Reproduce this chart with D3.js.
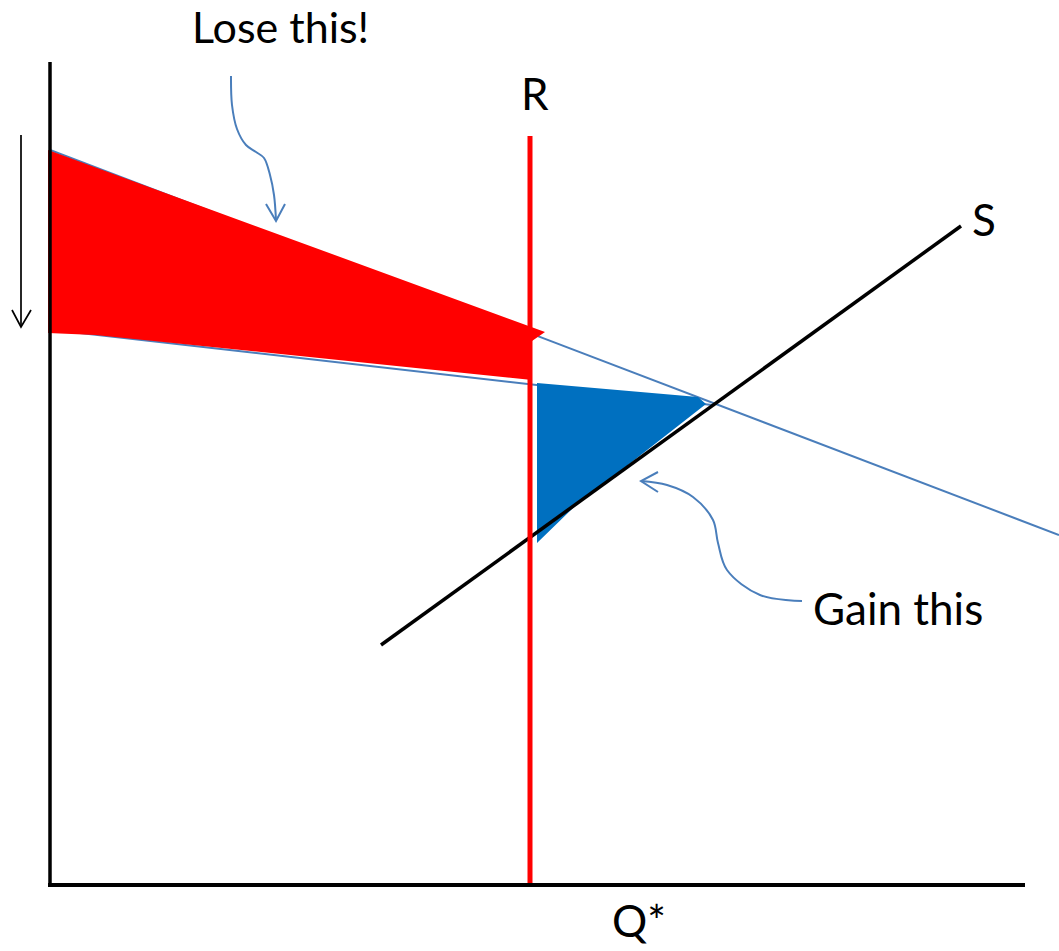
<!DOCTYPE html>
<html><head><meta charset="utf-8">
<script src="https://cdn.jsdelivr.net/npm/d3@7"></script>
<style>html,body{margin:0;padding:0;background:#fff;}svg{display:block;}</style>
</head><body>
<script>
// Conceptual diagram data (quantity on x, price on y, arbitrary units)
const axisX = [[-2, 0], [975, 0]];
const axisY = [[0, 0], [0, 823]];
const restrictionQ = 480;              // R line / Q*
const restrictionTop = 749;
const supply = [[331, 240], [911, 659]];
const demandUpper = [[0, 735], [1009, 350]];
const demandLower = [[30, 552], [662, 480]];
const loseArea = [[-2, 735], [495, 553], [482, 544], [482, 505], [45, 550], [-2, 552]];
const gainArea = [[487, 502], [648, 488], [656, 481], [523, 377], [487, 342]];
const priceArrow = [[-29, 750], [-29, 558]];
const priceArrowHead = [[-38, 575], [-29, 558], [-19, 575]];
const loseCurve = [[181, 809], [182, 780], [187, 756], [196, 740], [206, 733], [214, 727], [220, 710], [224, 690], [226, 665]];
const loseHead = [[216, 681], [226, 664], [235, 681]];
const gainCurve = [[752, 284], [710, 290], [677, 315], [668, 342], [663, 365], [643, 388], [617, 400], [591, 404]];
const gainHead = [[608, 413], [591, 404], [608, 393]];
const labels = [
  {text: "Lose this!", x: 142, y: 842, size: 43},
  {text: "R", x: 471, y: 775, size: 44},
  {text: "S", x: 922, y: 649, size: 44},
  {text: "Gain this", x: 763, y: 260, size: 44},
  {text: "Q*", x: 562, y: -52, size: 44}
];

const W = 1059, H = 951;
const x = d3.scaleLinear().domain([0, 975]).range([50, 1025]);
const y = d3.scaleLinear().domain([0, 823]).range([885, 62]);

const svg = d3.select("body").append("svg").attr("width", W).attr("height", H);
const line = d3.line().x(d => x(d[0])).y(d => y(d[1]));
const curve = d3.line().x(d => x(d[0])).y(d => y(d[1])).curve(d3.curveCatmullRom.alpha(0.5));

const blueThin = "#4A7EBB";

// demand lines
svg.append("path").attr("d", line(demandUpper)).attr("fill", "none").attr("stroke", blueThin).attr("stroke-width", 2);
svg.append("path").attr("d", line(demandLower)).attr("fill", "none").attr("stroke", blueThin).attr("stroke-width", 2);

// areas
svg.append("path").attr("d", line(loseArea) + "Z").attr("fill", "#FF0000");
svg.append("path").attr("d", line(gainArea) + "Z").attr("fill", "#0070C0");

// supply
svg.append("path").attr("d", line(supply)).attr("fill", "none").attr("stroke", "#000").attr("stroke-width", 3.5);

// restriction line
svg.append("line").attr("x1", x(restrictionQ)).attr("x2", x(restrictionQ))
  .attr("y1", y(restrictionTop)).attr("y2", y(0)).attr("stroke", "#FF0000").attr("stroke-width", 5);

// axes
svg.append("path").attr("d", line(axisY)).attr("stroke", "#000").attr("stroke-width", 3.5).attr("fill", "none");
svg.append("path").attr("d", line(axisX)).attr("stroke", "#000").attr("stroke-width", 4).attr("fill", "none");

// price arrow
svg.append("path").attr("d", line(priceArrow)).attr("stroke", "#000").attr("stroke-width", 1.7).attr("fill", "none");
svg.append("path").attr("d", line(priceArrowHead)).attr("stroke", "#000").attr("stroke-width", 1.7).attr("fill", "none");

// annotation arrows
[[loseCurve, loseHead], [gainCurve, gainHead]].forEach(([c, h]) => {
  svg.append("path").attr("d", curve(c)).attr("stroke", blueThin).attr("stroke-width", 2).attr("fill", "none");
  svg.append("path").attr("d", line(h)).attr("stroke", blueThin).attr("stroke-width", 2).attr("fill", "none").attr("stroke-linejoin", "miter");
});

// labels
svg.selectAll("text.lbl").data(labels).enter().append("text")
  .attr("class", "lbl")
  .attr("x", d => x(d.x)).attr("y", d => y(d.y))
  .attr("font-family", "Lato, 'Open Sans', sans-serif")
  .attr("font-size", d => d.size)
  .attr("fill", "#000")
  .text(d => d.text);
</script>
</body></html>
